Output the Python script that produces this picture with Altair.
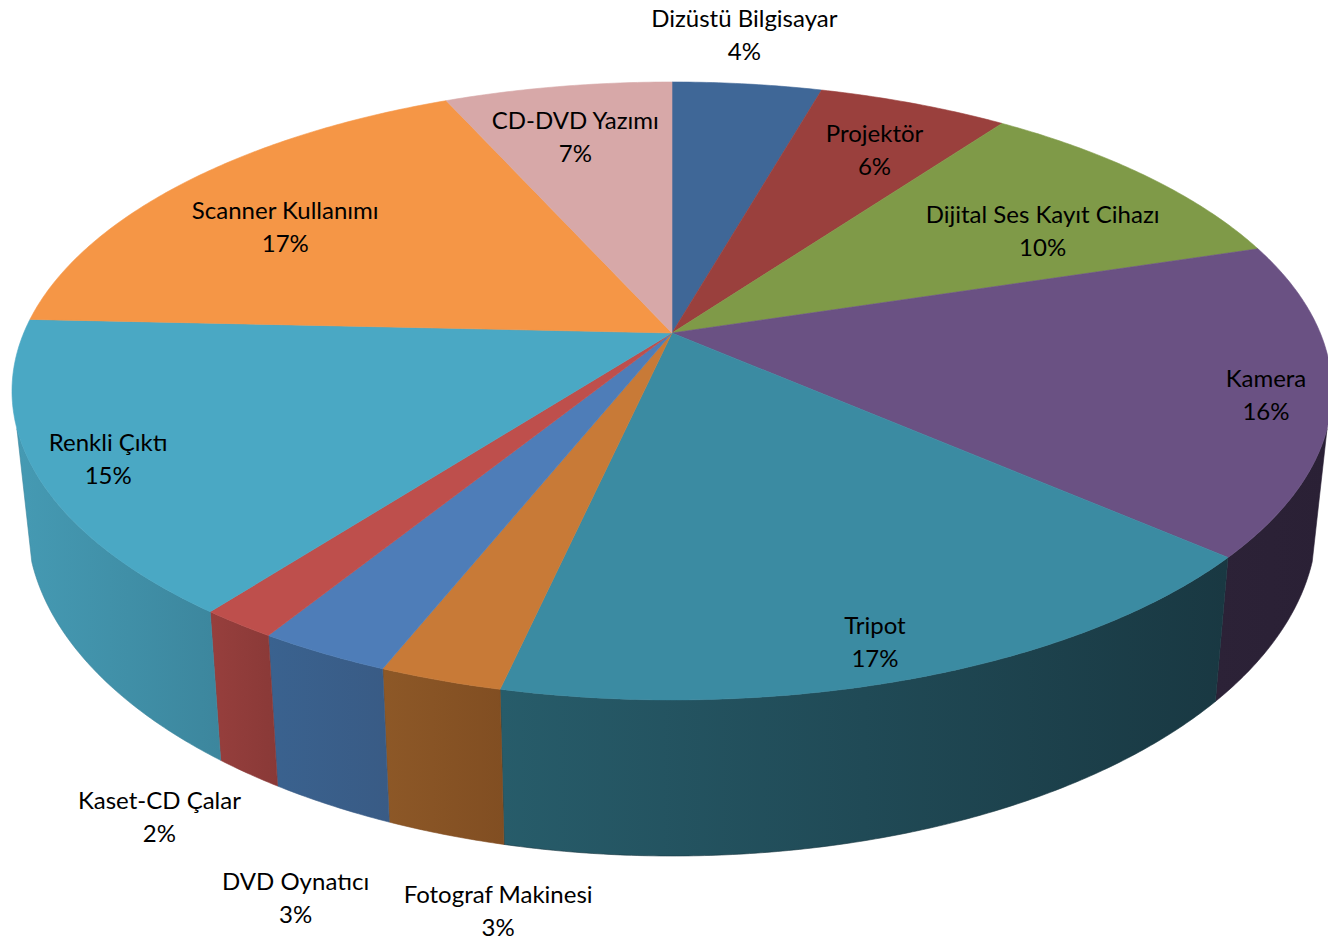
import math
import altair as alt
import pandas as pd

# slices, clockwise from 12 o'clock
names = ["Dizüstü Bilgisayar", "Projektör", "Dijital Ses Kayıt Cihazı", "Kamera", "Tripot",
         "Fotograf Makinesi", "DVD Oynatıcı", "Kaset-CD Çalar", "Renkli Çıktı",
         "Scanner Kullanımı", "CD-DVD Yazımı"]
percents = [4, 6, 10, 16, 17, 3, 3, 2, 15, 17, 7]
# sweep of each slice along the drawn rim, degrees
rim_sweep = [13.1, 16.9, 32.6, 60.0, 72.5, 10.9, 11.7, 6.7, 59.0, 56.6, 20.0]
top_colors = ["#3F6797", "#9A403D", "#7F9A48", "#6A5183", "#3B8BA2", "#C87A37",
              "#4E7DB8", "#BE4F4C", "#4AA8C4", "#F59646", "#D7A8A8"]
side_left = {3: "#2C2237", 4: "#275C6A", 5: "#8D5827", 6: "#3A628F", 7: "#973F3D", 8: "#459AB3"}
side_right = {3: "#2A2035", 4: "#193842", 5: "#814E22", 6: "#395B85", 7: "#893937", 8: "#3C869D"}
# label anchor around the pie: angle and radius relative to the rim
label_angle = [5.42, 21.4, 47.3, 90.8, 159.2, 188.9, 199.2, 209.4, 255.6, 312.2, 349.9]
label_radius = [1.160, 0.841, 0.764, 0.900, 0.866, 1.703, 1.734, 1.582, 0.882, 0.791, 0.835]

W, H = 1320, 931
RX, RY = 660.0, 309.0
CX, CY = 672.0, 391.0
APEX_Y = (333.0 - CY) / RY
BOT_RX = 645.0 / RX
BOT_CY = (521.0 - CY) / RY
BOT_RY = 335.0 / RY
FRONT_FROM, FRONT_TO = 97.0, 263.0

x_scale = alt.Scale(domain=[(8 - CX) / RX, (8 + W - CX) / RX], range=[0, W], nice=False, zero=False)
y_scale = alt.Scale(domain=[(8 - CY) / RY, (8 + H - CY) / RY], range=[0, H], nice=False, zero=False)


def top_pt(t):
    a = math.radians(t)
    return math.sin(a), -math.cos(a)


def bot_pt(t):
    a = math.radians(t)
    return BOT_RX * math.sin(a), BOT_CY - BOT_RY * math.cos(a)


def degs(a, b):
    n = max(2, int((b - a) * 2) + 1)
    return [a + (b - a) * k / (n - 1) for k in range(n)]


def poly(pts, color_fill, stroke):
    df = pd.DataFrame({"x": [p[0] for p in pts], "y": [p[1] for p in pts], "i": range(len(pts))})
    return alt.Chart(df).mark_line(fill=color_fill, stroke=stroke, strokeWidth=0.6, interpolate="linear").encode(
        x=alt.X("x:Q", scale=x_scale, axis=None),
        y=alt.Y("y:Q", scale=y_scale, axis=None),
        order=alt.Order("i:Q"),
    )


edges = [0.0]
for s in rim_sweep:
    edges.append(edges[-1] + s)

layers = []
for k in side_left:
    a = max(edges[k], FRONT_FROM)
    b = min(edges[k + 1], FRONT_TO)
    ts = degs(a, b)
    pts = [top_pt(t) for t in ts] + [bot_pt(t) for t in reversed(ts)]
    pts.append(pts[0])
    grad = alt.LinearGradient(
        gradient="linear", x1=0, x2=1, y1=0, y2=0,
        stops=[alt.GradientStop(offset=0, color=side_left[k]), alt.GradientStop(offset=1, color=side_right[k])],
    )
    layers.append(poly(pts, grad, side_right[k]))

for k, c in enumerate(top_colors):
    ts = degs(edges[k], edges[k + 1])
    pts = [(0.0, APEX_Y)] + [top_pt(t) for t in ts] + [(0.0, APEX_Y)]
    layers.append(poly(pts, c, c))

labels = pd.DataFrame({
    "x": [r * math.sin(math.radians(t)) for r, t in zip(label_radius, label_angle)],
    "y": [-r * math.cos(math.radians(t)) for r, t in zip(label_radius, label_angle)],
    "text": [f"{n}\n{p}%" for n, p in zip(names, percents)],
})
layers.append(
    alt.Chart(labels).mark_text(font="Lato", fontSize=24, color="#000000", lineBreak="\n", lineHeight=33,
                                align="center", baseline="middle", dy=-14.5).encode(
        x=alt.X("x:Q", scale=x_scale, axis=None),
        y=alt.Y("y:Q", scale=y_scale, axis=None),
        text="text:N",
    )
)

chart = alt.layer(*layers).properties(
    width=W, height=H, padding=0, autosize=alt.AutoSizeParams(type="none"), background="white"
).configure_view(stroke=None)

chart.save("out.html", embed_options={"renderer": "svg", "actions": False})
